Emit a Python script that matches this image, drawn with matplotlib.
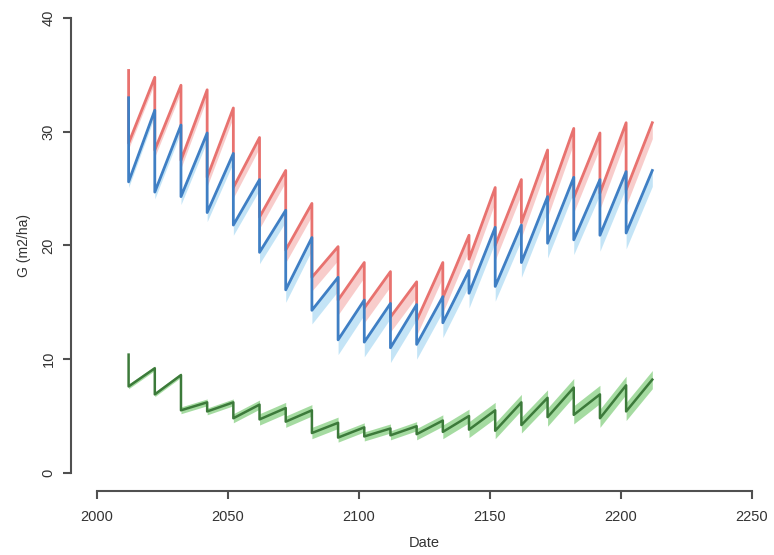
import matplotlib
matplotlib.use("Agg")
import matplotlib.pyplot as plt
import numpy as np

plt.rcParams["font.family"] = ["Liberation Sans", "DejaVu Sans"]

# thinning years (one cycle every 10 years) and end of simulation
years = [2012, 2022, 2032, 2042, 2052, 2062, 2072, 2082, 2092, 2102,
         2112, 2122, 2132, 2142, 2152, 2162, 2172, 2182, 2192, 2202]
end_year = 2212

# values just before each thinning (last one = end of simulation)
red_peaks = [35.4, 34.8, 34.1, 33.7, 32.1, 29.5, 26.6, 23.7, 19.9, 18.5,
             17.7, 16.8, 18.5, 20.9, 25.1, 25.8, 28.4, 30.3, 29.9, 30.8, 30.8]
red_troughs = [29.0, 28.4, 27.5, 26.0, 25.1, 22.5, 19.6, 17.2, 15.2, 14.5,
               13.7, 13.4, 15.4, 18.8, 20.0, 22.0, 23.8, 24.2, 24.6, 24.9]
red_band = [0.5, 0.6, 0.7, 0.8, 0.9, 1.0, 1.1, 1.2, 1.3, 1.3,
            1.3, 1.3, 1.3, 1.3, 1.3, 1.3, 1.3, 1.3, 1.4, 1.4]

blue_peaks = [33.0, 31.9, 30.6, 29.9, 28.1, 25.8, 23.1, 20.7, 17.2, 15.2,
              14.9, 14.8, 15.5, 17.8, 21.6, 21.8, 24.3, 26.0, 25.8, 26.5, 26.6]
blue_troughs = [25.6, 24.7, 24.3, 22.9, 21.8, 19.4, 16.1, 14.3, 11.7, 11.5,
                11.0, 11.3, 13.2, 15.8, 16.4, 18.5, 20.2, 20.5, 20.9, 21.1]
blue_band = [0.5, 0.6, 0.7, 0.8, 0.9, 1.0, 1.1, 1.2, 1.3, 1.3,
             1.3, 1.3, 1.3, 1.3, 1.3, 1.3, 1.3, 1.3, 1.4, 1.4]

green_peaks = [10.4, 9.2, 8.6, 6.2, 6.2, 6.0, 5.7, 5.5, 4.4, 4.0,
               3.9, 4.1, 4.6, 5.0, 5.5, 6.2, 6.6, 7.5, 6.9, 7.7, 8.2]
green_troughs = [7.6, 6.9, 5.5, 5.4, 4.8, 4.7, 4.5, 3.5, 3.1, 3.2,
                 3.3, 3.4, 3.6, 3.8, 3.7, 4.2, 4.9, 5.1, 4.8, 5.4]
green_band = [0.2, 0.2, 0.3, 0.3, 0.4, 0.5, 0.5, 0.5, 0.4, 0.4,
              0.4, 0.5, 0.6, 0.7, 0.7, 0.7, 0.8, 0.8, 0.8, 0.8]


def sawtooth(peaks, troughs, band):
    xs, ys, ws = [], [], []
    for i, t in enumerate(years):
        xs += [t, t]
        ys += [peaks[i], troughs[i]]
        ws += [band[max(i - 1, 0)], band[i]]
    xs.append(end_year)
    ys.append(peaks[-1])
    ws.append(band[-1])
    return np.array(xs), np.array(ys), np.array(ws)


fig = plt.figure(figsize=(7.74, 5.55), dpi=100)
ax = fig.add_axes([71 / 774, 64 / 555, 707 / 774, 491 / 555])

rx, ry, rw = sawtooth(red_peaks, red_troughs, red_band)
bx, by, bw = sawtooth(blue_peaks, blue_troughs, blue_band)
gx, gy, gw = sawtooth(green_peaks, green_troughs, green_band)

# confidence bands
ax.fill_between(rx, ry - rw, ry + 0.15 * rw, color="#f6bcba", lw=0, alpha=0.75)
ax.fill_between(bx, by - bw, by + 0.15 * bw, color="#b0dcf4", lw=0, alpha=0.75)
ax.fill_between(gx, gy - gw, gy + gw, color="#8fd38a", lw=0, alpha=0.8)

ax.plot(rx, ry, color="#e8726f", lw=2.0)
ax.plot(bx, by, color="#3f7fc4", lw=2.0)
ax.plot(gx, gy, color="#3c7a3a", lw=1.8)

ax.set_xlim(1990, 2260)
ax.set_ylim(-1.6, 41.6)
ax.set_xticks([2000, 2050, 2100, 2150, 2200, 2250])
ax.set_yticks([0, 10, 20, 30, 40])
ax.set_yticklabels(["0", "10", "20", "30", "40"], rotation=90, va="center")

for s in ["top", "right"]:
    ax.spines[s].set_visible(False)
ax.spines["left"].set_bounds(0, 40)
ax.spines["bottom"].set_bounds(2000, 2250)
for s in ["left", "bottom"]:
    ax.spines[s].set_color("#505050")
    ax.spines[s].set_linewidth(1.5)

ax.tick_params(axis="both", direction="out", length=6, width=1.5,
               color="#505050", labelcolor="#333333", labelsize=10.5)
ax.tick_params(axis="y", pad=5)
ax.tick_params(axis="x", pad=8)

ax.set_xlabel("Date", fontsize=10.5, color="#333333", labelpad=8)
ax.set_ylabel("G (m2/ha)", fontsize=10, color="#333333", labelpad=8)

fig.savefig("out.png", dpi=100)
